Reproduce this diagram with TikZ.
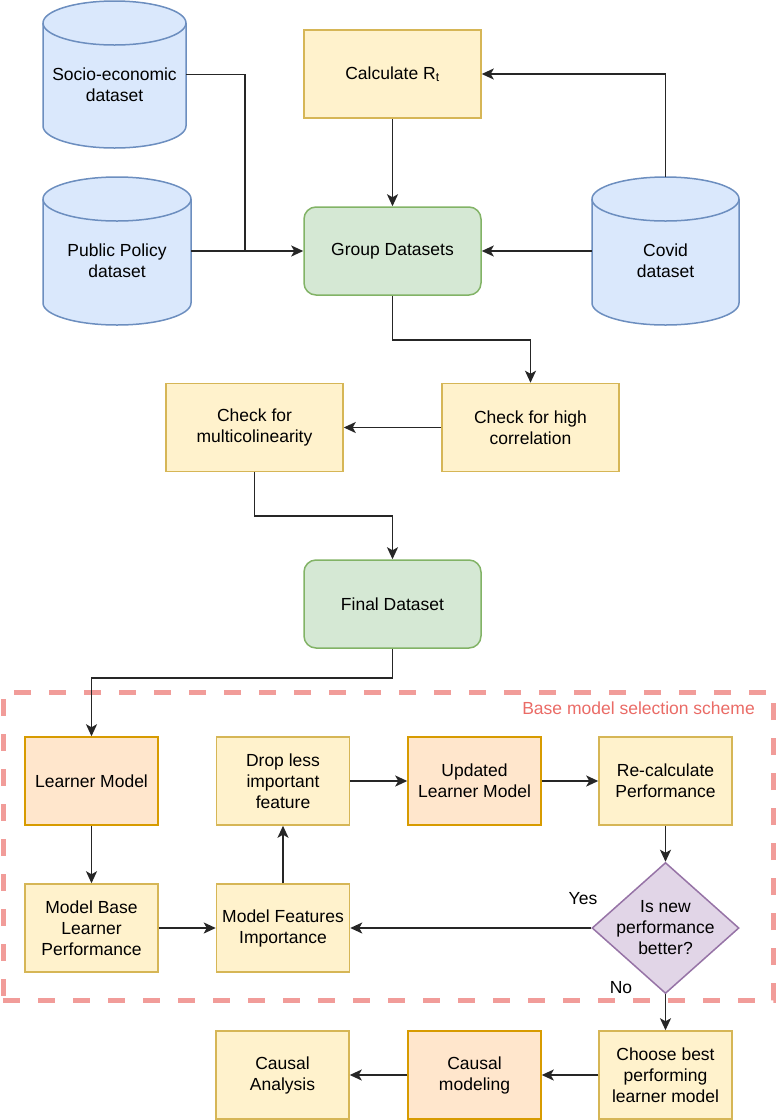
\documentclass[tikz,border=0pt]{standalone}
\usepackage{fontspec}
\setmainfont{Liberation Sans}
\usetikzlibrary{arrows.meta,shapes.geometric,calc}
\definecolor{bfill}{HTML}{DAE8FC}\definecolor{bdraw}{HTML}{6C8EBF}
\definecolor{yfill}{HTML}{FFF2CC}\definecolor{ydraw}{HTML}{D6B656}
\definecolor{gfill}{HTML}{D5E8D4}\definecolor{gdraw}{HTML}{82B366}
\definecolor{ofill}{HTML}{FFE6CC}\definecolor{odraw}{HTML}{D79B00}
\definecolor{pfill}{HTML}{E1D5E7}\definecolor{pdraw}{HTML}{9673A6}
\definecolor{rdash}{HTML}{F19C99}\definecolor{rtext}{HTML}{EA6B66}
\tikzset{
  txt/.style={font=\fontsize{17.5}{21}\selectfont, align=center, inner sep=0pt},
  boxbase/.style={txt, draw, line width=1.5pt, minimum width=133pt, minimum height=88pt},
  ybox/.style={boxbase, fill=yfill, draw=ydraw},
  obox/.style={boxbase, fill=ofill, draw=odraw},
  gbox/.style={boxbase, fill=gfill, draw=gdraw, rounded corners=12pt, minimum width=177pt},
  decision/.style={diamond, draw=pdraw, fill=pfill, line width=1.5pt, minimum width=147pt, minimum height=131pt, inner sep=0pt, aspect=1.12},
  cylbody/.style={fill=bfill, draw=bdraw, line width=1.5pt},
  cylnode/.style={inner sep=0pt},
  conn/.style={line width=1.6pt, draw=black!85},
  arr/.style={conn, -{Stealth[length=12pt,width=11pt,inset=3pt]}},
  dashbox/.style={draw=rdash, line width=5pt, dash pattern=on 17pt off 18pt, minimum width=770pt, minimum height=308pt, inner sep=0pt},
}
% cylinder: name, x1, y1, x2, y2, text
\newcommand{\dbcyl}[6]{%
  \pgfmathsetmacro\cylrx{(#4-#2)/2}%
  \path[cylbody] (#2,#3+22) -- (#2,#5-22) arc[start angle=180,end angle=360,x radius=\cylrx pt,y radius=22pt]
     -- (#4,#3+22) arc[start angle=0,end angle=180,x radius=\cylrx pt,y radius=22pt] -- cycle;
  \draw[bdraw, line width=1.5pt] (#2,#3+22) arc[start angle=180,end angle=360,x radius=\cylrx pt,y radius=22pt];
  \node[cylnode, minimum width={(#4-#2)*1pt}, minimum height={(#5-#3)*1pt}] (#1) at ({(#2+#4)/2},{(#3+#5)/2}) {};
  \node[txt] (#1txt) at ($(#1.center)+(0,10)$) {#6};
}
\begin{document}
\begin{tikzpicture}[x=1pt,y=-1pt]
\useasboundingbox (0,0) rectangle (777,1120);
% databases
\dbcyl{soc}{43}{1}{186}{148}{Socio-economic\\dataset}
\dbcyl{pub}{43}{177}{191}{325}{Public Policy\\dataset}
\dbcyl{cov}{592}{177}{739}{325}{Covid\\dataset}
% top boxes
\node[ybox, minimum width=177pt] (calc) at (392.5,74) {Calculate R\textsubscript{t}};
\node[gbox] (grp) at (392.5,251) {Group Datasets};
\node[ybox, minimum width=177pt] (hc) at (530.5,427.5) {Check for high\\correlation};
\node[ybox, minimum width=177pt] (mul) at (254.5,427.5) {Check for\\multicolinearity};
\node[gbox] (fin) at (392.5,604) {Final Dataset};
% scheme frame
\node[dashbox] (scheme) at (388,846) {};
\node[txt, anchor=east, text=rtext] (schemelab) at (755,708) {Base model selection scheme};
% scheme boxes
\node[obox] (lm) at (91.5,781) {Learner Model};
\node[ybox] (mblp) at (91.5,928) {Model Base\\Learner\\Performance};
\node[ybox] (drop) at (283,781) {Drop less\\important\\feature};
\node[ybox] (mfi) at (283,928) {Model Features\\Importance};
\node[obox] (ulm) at (474.5,781) {Updated\\Learner Model};
\node[ybox] (rec) at (665.5,781) {Re-calculate\\Performance};
\node[decision] (dec) at (665.5,928) {};
\node[txt] (dectxt) at (dec.center) {Is new\\performance\\better?};
\node[txt] (yes) at (583,899) {Yes};
\node[txt] (no) at (621,988) {No};
% bottom row
\node[ybox] (cho) at (665.5,1075) {Choose best\\performing\\learner model};
\node[obox] (cmod) at (474.5,1075) {Causal\\modeling};
\node[ybox] (can) at (282.5,1075) {Causal\\Analysis};
% connectors
\coordinate (j1) at (245,251);
\draw[conn] (soc.east) -| (j1);
\draw[arr] (pub.east) -- (grp.west);
\draw[arr] (calc.south) -- (grp.north);
\draw[arr] (cov.north) |- (calc.east);
\draw[arr] (cov.west) -- (grp.east);
\draw[arr] (grp.south) -- ++(0,44) -| (hc.north);
\draw[arr] (hc.west) -- (mul.east);
\draw[arr] (mul.south) -- ++(0,44) -| (fin.north);
\draw[arr] (fin.south) -- ++(0,29) -| (lm.north);
\draw[arr] (lm.south) -- (mblp.north);
\draw[arr] (mblp.east) -- (mfi.west);
\draw[arr] (mfi.north) -- (drop.south);
\draw[arr] (drop.east) -- (ulm.west);
\draw[arr] (ulm.east) -- (rec.west);
\draw[arr] (rec.south) -- (dec.north);
\draw[arr] (dec.west) -- (mfi.east);
\draw[arr] (dec.south) -- (cho.north);
\draw[arr] (cho.west) -- (cmod.east);
\draw[arr] (cmod.west) -- (can.east);
\end{tikzpicture}
\end{document}
